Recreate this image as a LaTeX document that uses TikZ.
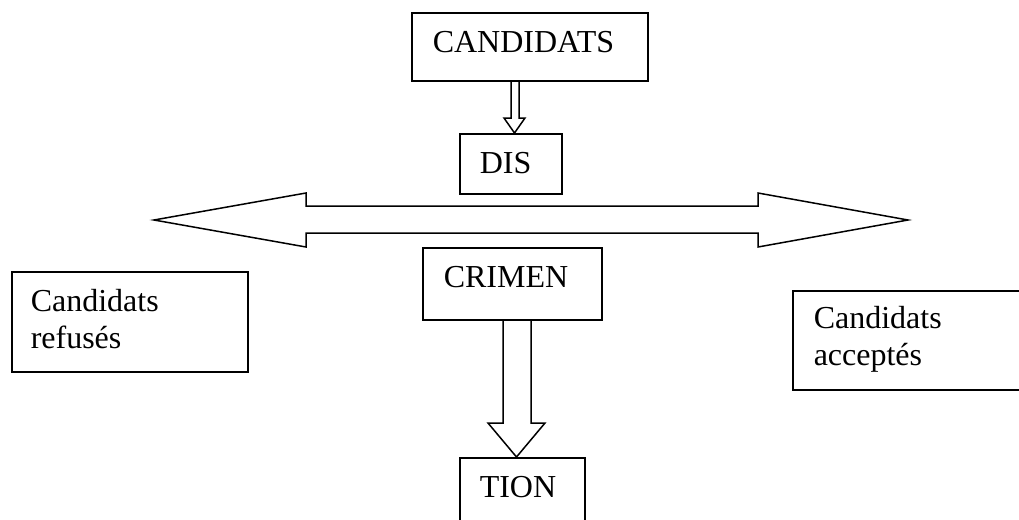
\documentclass[tikz,border=0pt]{standalone}
\usepackage{fontspec}
\setmainfont{Liberation Serif}
\usetikzlibrary{positioning}

\begin{document}
\begin{tikzpicture}[x=0.5pt,y=-0.5pt,
  boite/.style={draw, line width=0.75pt, anchor=north west, align=left,
    inner ysep=0pt, font=\fontsize{16}{18.5}\selectfont},
  fleche/.style={draw, line width=0.75pt, line join=miter}]
  \useasboundingbox (0,0) rectangle (1019,520);
  \clip (0,0) rectangle (1019,520);

  \node[boite, inner xsep=10.5pt, text width=97pt, text height=20pt, text depth=14pt] (cand) at (411,12) {CANDIDATS};
  \node[boite, inner xsep=10pt, text width=31pt, text height=20pt, text depth=10pt] (dis) at (459,133) {DIS};
  \node[boite, inner xsep=10.5pt, text width=68.5pt, text height=20pt, text depth=16pt] (crimen) at (422,247) {CRIMEN};
  \node[boite, inner xsep=10pt, text width=42.5pt, text height=20pt, text depth=15pt] (tion) at (459,457) {TION};
  \node[boite, inner xsep=9.5pt, text width=99pt, text height=20pt, text depth=30pt] (refuses) at (11,271) {Candidats\\refusés};
  \node[boite, inner xsep=10.5pt, text width=97pt, text height=19pt, text depth=30.5pt] (acceptes) at (792,290) {Candidats\\acceptés};

  \draw[fleche] (cand.south -| 511,0) -- (511,118) -- (504,118) -- (dis.north -| 514.5,0)
    -- (525,118) -- (519,118) -- (cand.south -| 519,0);
  \draw[fleche] (crimen.south -| 503,0) -- (503,423) -- (488,423) -- (tion.north -| 516.5,0)
    -- (545,423) -- (531,423) -- (crimen.south -| 531,0);

  \draw[fleche] (154,220) -- (306,193) -- (306,206) -- (758,206) -- (758,193) -- (908,220)
    -- (758,247) -- (758,233) -- (306,233) -- (306,247) -- cycle;
\end{tikzpicture}
\end{document}
